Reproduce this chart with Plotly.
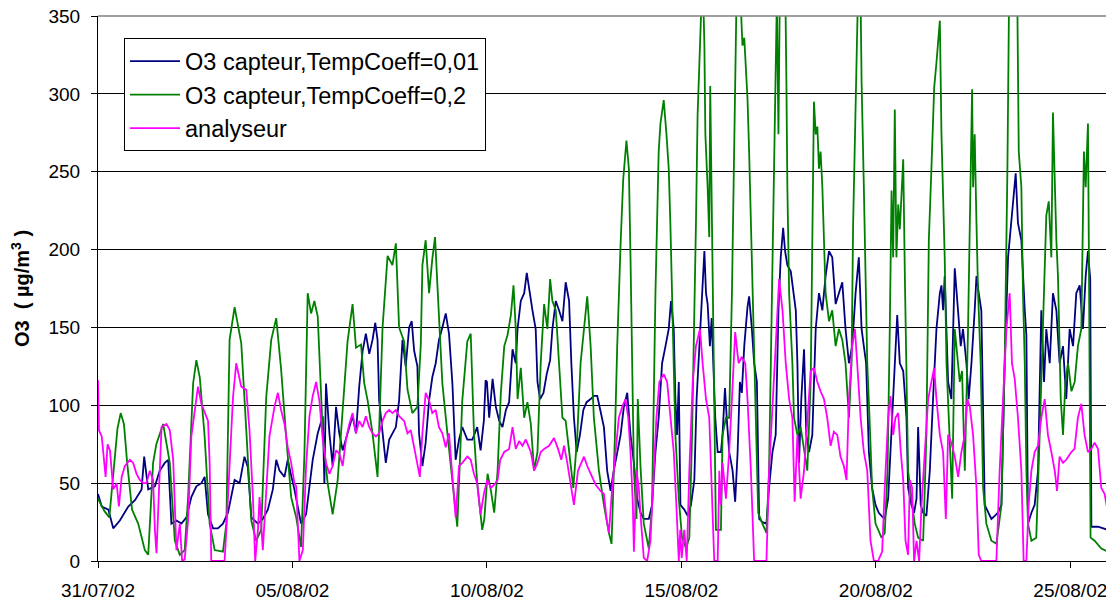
import pandas as pd
import plotly.graph_objects as go

START = "2002-07-31 00:00"

# hours since 31/07/02 00:00 and O3 values (µg/m3)
blue_h = [0,2.3,6.4,9.4,13.5,18.7,22.8,26.9,28.5,31,35.1,38.1,41.2,43.3,45.3,48.4,51.5,54.6,57.6,60.7,63.8,65.8,67.9,71,74,77.1,80.2,84.3,87.4,90.4,92.5,94.6,98.7,101.7,104.8,107.9,110,112,115.1,117.1,119.2,121.2,125.3,128.4,132.5,135.6,138.7,139.7,140.7,142.8,144.8,146.9,148.9,151,154,157.1,159.2,161.2,163.3,165.3,167.4,169.4,171.1,172.5,173.5,175.6,177.6,179.7,181.7,183.8,185.8,187.9,189.9,192,193.6,195.1,197.1,198.1,200.2,202.2,204.3,206.3,208.4,210.4,212.5,214.6,216.6,218.7,220.7,222.8,224.8,227.9,231,234,236.1,238.1,239.2,240,241.4,243.5,245.5,247.6,249.6,251.7,253.7,255.8,257.8,258.9,260.9,263,264.6,266,268.1,270.1,271.2,272.8,274.9,276.9,279,280.4,282.5,284.5,286.6,288.6,290.7,292.1,293.7,295.4,297.4,299.5,301.5,304,306,308.1,310.1,312.2,314.2,316.3,318.3,320.4,322.5,324.5,326.6,328.6,330.7,332.7,334.8,336.8,339.9,341.9,344,346,348.1,350.2,352.2,353.6,355.3,356.3,357.3,358.4,359.4,361.8,363.9,365.9,368,369.4,371.1,372.7,374.2,375.2,376.2,377.6,378.7,379.7,380.9,382.4,384.4,385.4,386.9,388.1,389.5,391.6,393.2,394.7,396.1,397.3,398.8,400.8,401.8,403.5,404.9,406.6,408,410,412.5,414.1,416.2,418.2,419.9,421.3,422.8,424,425.4,427.5,429.1,430.6,431.6,432.6,434,435.7,437.1,438.8,440.8,442.9,444.9,447,449,451.1,453.1,455.2,457.2,459.3,461.3,463.4,465.4,467.5,469.5,471.2,472.6,474,475.7,477.7,479.8,481.8,483.5,485.5,487.6,489.7,491.7,493.2,494.8,496.9,498.9,499.9,502,503.6,505.1,506.1,507.7,509.2,511.2,513.3,515.3,517.4,519.5,520.5,521.5,522.5,524.6,526.6,528.7,530.8,532.4,533.8,535.9,537.3,539,541,542.1,543.5,545.1,547.2,549.3,551.3,553.4,555.4,557.5,559.5,561.6,563.6,566.3,567.7,569.8,571.9,572.9,573.9,576,578,580.1,582.1,583.8,585.2,587.3,589.3,591.4,593.4,595.5,597.5,599.6,601.7,603.7,605.8,607.8,609.5,610.9,612.3,613,617.1,623.2]
blue_v = [43,35,33,21,26,35,39,46,67,46,48,58,63,65,24,26,24,28,41,48,50,54,30,21,21,24,31,52,50,67,60,28,24,27,33,46,65,58,54,65,55,46,24,30,65,82,93,50,114,82,61,99,82,71,82,93,82,112,135,146,133,142,153,142,103,82,63,78,82,86,103,142,125,150,154,135,125,82,61,76,103,118,127,142,150,159,146,114,65,78,86,78,78,86,71,90,116,115,92,117,99,90,86,97,102,136,127,149,167,172,185,174,161,149,115,104,108,120,129,149,167,161,154,179,167,127,92,70,81,97,102,104,106,106,97,86,58,45,58,70,81,99,108,81,63,40,31,27,27,36,70,92,127,138,149,167,149,104,81,115,36,33,29,36,52,104,138,161,199,172,165,138,156,127,92,70,70,81,111,90,70,58,38,70,115,108,138,163,170,149,127,115,27,25,24,47,70,81,161,195,214,199,190,186,172,161,127,63,104,136,81,70,81,149,172,161,183,199,195,165,172,179,149,127,138,172,195,149,138,127,70,47,36,31,29,27,40,81,127,158,127,122,92,47,36,31,40,86,36,31,29,58,104,149,172,177,161,183,115,104,188,156,138,149,127,104,127,161,183,172,161,36,31,27,29,31,36,127,195,217,249,217,206,161,145,24,31,36,58,161,115,149,127,172,161,127,138,104,149,138,172,177,149,183,199,181,22,22,20]

green_h = [0,4,7,10,12,14,16,18,21,24.8,28.9,31,34,36,40.2,44.3,47.4,50.5,53.5,55.6,58.7,60.7,62.8,65.8,68.9,72,77.1,79.2,81.2,84.3,88.4,91.5,94.6,97.6,100.7,103.8,106.9,110,113,116.1,119.2,122.3,125.3,127.4,129.4,131.5,133.5,135.6,138.7,141.7,144.8,147.9,151,154,157.1,159.2,162.3,164.3,166.4,169.4,172.5,175.6,178.7,181.7,183.8,185.8,188.9,191,194,197.1,199.2,200.2,202.2,204.3,206.3,208,209.4,212.5,215.6,218.7,221.7,224.8,227.9,230,232,234,237.1,238.4,240.4,242.5,244.5,246.6,248.6,250.7,252.7,254.8,256.4,257.8,258.9,260.9,263,265,267.1,269.1,271.2,273.2,275.3,277.3,279,280.4,282.5,284.5,286.6,288.6,290.7,293.3,295.8,297.8,299.9,301.9,304,306,309.1,312.2,315.3,316.9,319,320.4,322.5,324.1,326.1,327.6,328.6,329.6,330.7,332.3,333.1,334.8,336.8,339.9,341.9,344,346,347.1,349.1,350.8,352.2,353.2,354.9,356.3,358.4,360.4,362.9,364.9,366.6,368,369,370,371.1,372.1,373.1,374.2,374.8,376.2,377.2,377.8,378.7,379.3,380.3,381.3,384.4,385.4,387.5,389.5,391.2,392.2,393,394,395.3,396.7,397.7,398.8,399.8,400.8,401.8,402.9,403.9,404.9,405.9,407.4,410,412.5,414.1,415.8,417.2,418.2,418.9,419.9,420.7,422.4,424,424.8,425.4,426.5,428.5,429.5,431.6,433.6,435.7,437.7,439.8,440.8,441.8,442.9,443.9,444.9,445.9,447,448,449,451.1,453.1,455.2,457.2,459.3,461.3,463.4,465,466,467.1,468.5,469.5,470.6,471.2,472.6,473.6,474.7,476.1,477.7,479.8,481.4,483.5,485.5,487.2,488.6,489.7,490.7,491.7,492.7,493.8,494.8,495.8,496.9,497.9,498.9,499.9,502,504,506.1,509.2,511.2,512.7,514.3,516,517.4,518.4,519.5,520.5,522.5,523.6,525.6,527.1,528.7,529.7,531.8,533.2,534.9,536.9,538,539.4,540,541,542.1,543.1,544.7,546.2,548.2,551.3,554.4,557.5,559.5,561.2,562.2,563.6,565.7,567.3,568.2,569.8,570.8,571.9,572.9,573.9,576,579,581.1,583.2,585.2,586.7,588.3,589.3,590.4,591.4,592.4,594.1,595.5,597,598.6,600.7,602.7,604.7,606.8,608.4,609.5,610.9,611.5,611.9,612.5,615,619.1,623.2]
green_v = [40,32,28,60,85,95,88,63,33,24,7,4,63,75,88,63,13,4,7,41,114,129,118,80,24,7,6,24,142,163,140,84,26,13,20,105,142,156,123,80,41,28,9,69,172,159,167,157,82,50,30,52,99,141,165,137,139,114,103,82,54,150,196,190,204,150,141,110,95,99,139,190,206,172,194,208,178,114,82,50,22,103,141,146,82,50,20,27,56,45,31,58,108,138,145,158,177,149,104,124,92,102,88,58,70,127,165,149,181,167,161,127,92,90,70,47,81,127,149,170,138,92,58,36,18,11,81,138,204,245,270,252,195,127,58,27,104,60,24,8,36,172,263,281,296,274,252,217,149,81,40,15,8,15,81,149,217,286,320,360,380,331,274,240,208,305,240,172,104,20,20,81,92,92,172,240,308,360,390,360,331,336,320,297,263,217,172,127,81,31,24,18,58,172,263,320,360,274,360,390,380,308,240,172,127,92,81,86,70,58,115,217,295,274,279,252,263,240,206,172,154,161,138,149,142,127,92,127,217,286,360,390,360,308,240,183,127,92,47,24,20,15,18,58,149,238,195,290,195,229,213,240,258,183,104,58,40,24,15,13,81,206,252,304,320,336,347,274,195,127,70,40,149,138,115,122,58,149,217,303,240,274,217,172,127,47,24,13,11,36,127,252,360,390,390,360,263,240,172,127,58,24,13,15,81,149,222,231,195,288,240,206,183,104,81,115,127,109,115,138,149,263,240,281,195,81,15,13,8,6]

mag_h = [0,0.6,2.3,3.3,4.7,5.9,7.4,9.4,11.5,12.9,14.6,16.6,19.7,21.7,23.8,25.8,27.9,29.9,32,34,35.1,36.1,39.2,42.3,44.3,46.4,47.4,48.4,50.5,51.9,53.5,55.6,57.6,59.7,61.7,63.8,65.8,67.9,68.9,69.9,74,78.1,79.2,81.2,83.3,85.3,88.4,91.5,93.5,95.6,97,98.7,99.7,101.7,103.8,105.8,108.9,111,113,115.1,117.1,119.2,121.2,122.3,124.3,126.4,128.4,130.5,132.5,134.6,136.6,138.7,140.7,142.8,144.8,146.9,148.9,151,153,155.1,157.1,159.2,161.2,163.3,165.3,167.4,169.4,171.5,173.5,175.6,177.6,179.7,181.7,183.8,185.8,188.9,191,193,195.1,197.1,198.6,200.2,202.2,204.3,206.3,208.4,210.4,212.5,214.6,216.6,218.7,220.7,222.8,224.8,227.9,230,232,234,236.1,238.1,240.2,242.5,244.5,246.6,248.2,250.7,253.7,255.8,257.8,259.9,261.9,264,267.1,269.1,271.2,273.2,275.3,278.4,281.4,283.9,285.9,287.6,289.6,292.1,293.7,296.2,298.2,299.9,301.9,304,307.1,310.1,312.2,313.8,315.3,317.3,319.4,321.4,323.5,325.5,327.2,328.6,330,330.7,332.3,333.7,335.2,336.8,338.9,340.9,343,344.6,346.4,349.1,351.2,353.2,355.3,356.9,358.4,359.3,360.2,361.8,363.3,364.9,367,369,371.5,373.1,375.2,377.2,378.7,380.3,382.4,383.4,384.4,385.4,387.5,389.5,391.2,393.2,395.3,397.3,399.4,400.8,402.9,404.9,408,412.5,414.1,416.2,418.2,420.3,422.4,424.4,426.5,428.5,429.9,431.6,433.6,435.7,437.7,439.8,441.8,443.9,445.9,448,450,452.1,454.1,456.2,458.2,460.3,461.9,463.4,465.4,467.1,468.5,470.6,472.6,474.7,476.7,478.8,481.4,483.9,485.5,487.6,489,490.7,492.1,493.8,495.4,496.9,498.3,499.9,501,502.4,503.6,505.1,506.7,508.2,510.2,512.3,514.3,516,517.4,519.5,521.5,523.2,524.6,526.6,528.7,530.8,532.8,534.9,536.5,538,540,542.1,543.5,545.1,554.4,556.4,558.5,560.6,562.6,564,565.7,567.7,569.8,571.2,572.9,574.3,576,578,580.1,582.1,584.2,586.2,588.3,590.4,591.8,593.4,595.5,597.5,600.6,602.6,604.7,606.8,608.8,610.9,613,615,617.1,619.1,621.2,623.2]
mag_v = [116,84,80,67,54,75,71,46,50,35,54,61,65,63,56,52,50,50,58,52,20,5,86,88,84,65,41,7,24,0,1,26,80,95,112,101,95,90,63,0,0,0,20,63,105,127,112,110,84,41,0,20,41,7,41,80,99,108,97,88,73,63,50,48,0,7,61,93,106,115,103,78,63,56,61,71,69,61,78,88,95,82,90,86,93,86,82,80,82,90,95,97,95,97,93,90,82,84,73,61,54,82,108,103,95,97,86,82,73,82,52,28,61,63,67,65,56,50,30,43,52,47,49,52,65,70,72,86,72,77,74,78,70,58,63,70,72,74,79,72,65,74,63,47,36,58,63,67,61,56,49,45,43,27,18,47,70,92,99,104,92,70,38,6,58,47,24,2,0,13,58,92,115,120,115,92,70,36,0,20,2,20,0,58,115,138,149,127,104,92,47,0,0,58,36,63,40,70,104,147,127,131,127,104,58,0,0,0,58,104,138,181,161,127,104,92,38,81,40,58,92,122,124,115,109,104,92,74,83,81,67,61,52,104,138,149,127,92,70,58,13,0,0,6,47,92,106,81,92,95,70,52,13,4,52,47,0,13,0,36,70,104,115,124,104,81,70,27,81,76,67,54,70,81,104,99,81,47,4,0,0,58,104,149,172,127,117,92,58,0,0,36,58,70,74,92,104,81,70,58,45,67,63,65,70,72,92,101,81,70,72,76,72,47,43,31]

names = ["O3 capteur,TempCoeff=0,01", "O3 capteur,TempCoeff=0,2", "analyseur"]
colors = ["#000080", "#008000", "#FF00FF"]

def to_time(hours):
    return pd.Timestamp(START) + pd.to_timedelta(hours, unit="h")

fig = go.Figure()
for i, (h, v) in enumerate([(blue_h, blue_v), (green_h, green_v), (mag_h, mag_v)]):
    fig.add_trace(go.Scatter(
        x=to_time(h), y=v, mode="lines", name=names[i],
        line=dict(color=colors[i], width=1.8),
        legendgroup=f"g{i}",
    ))

font_family = "Arial, Liberation Sans, sans-serif"

# the page body adds an 8 px offset; the figure is sized to fit the 1114x600 window
fig.update_layout(
    width=1106, height=592,
    margin=dict(l=90, r=4, t=8, b=39),
    paper_bgcolor="white", plot_bgcolor="white",
    font=dict(family=font_family, color="black"),
    showlegend=True,
    legend=dict(
        x=0.0257, y=0.959, xanchor="left", yanchor="top",
        bgcolor="white", bordercolor="black", borderwidth=1,
        font=dict(size=23.5, family=font_family, color="black"),
        tracegroupgap=0, itemwidth=50,
    ),
    xaxis=dict(
        type="date", automargin=False,
        range=["2002-07-31 00:00", "2002-08-26 00:30"],
        tick0="2002-07-31", dtick=5 * 86400000,
        tickformat="%d/%m/%y",
        showgrid=False, zeroline=False,
        showline=True, linecolor="black", linewidth=1,
        ticks="outside", ticklen=6, tickcolor="black",
        ticklabelstandoff=6, ticklabeloverflow="allow",
        tickfont=dict(size=19, family=font_family, color="black"),
    ),
    yaxis=dict(
        automargin=False,
        range=[0, 350], dtick=50, tick0=0,
        showgrid=True, gridcolor="black", gridwidth=1,
        zeroline=False,
        showline=True, linecolor="black", linewidth=1,
        ticks="outside", ticklen=6, tickcolor="black",
        ticklabelstandoff=7, ticklabeloverflow="allow",
        tickfont=dict(size=19, family=font_family, color="black"),
        title=dict(text="O3  ( µg/m<sup>3</sup> )", standoff=15,
                   font=dict(size=20, family=font_family, color="black", weight="bold")),
    ),
    shapes=[
        dict(type="line", xref="paper", yref="paper", x0=0, x1=1, y0=1, y1=1,
             line=dict(color="#808080", width=1.5), layer="above"),
        dict(type="line", xref="paper", yref="paper", x0=1, x1=1, y0=0, y1=1,
             line=dict(color="#808080", width=1.5), layer="above"),
    ],
)

fig.write_html("out.html")
